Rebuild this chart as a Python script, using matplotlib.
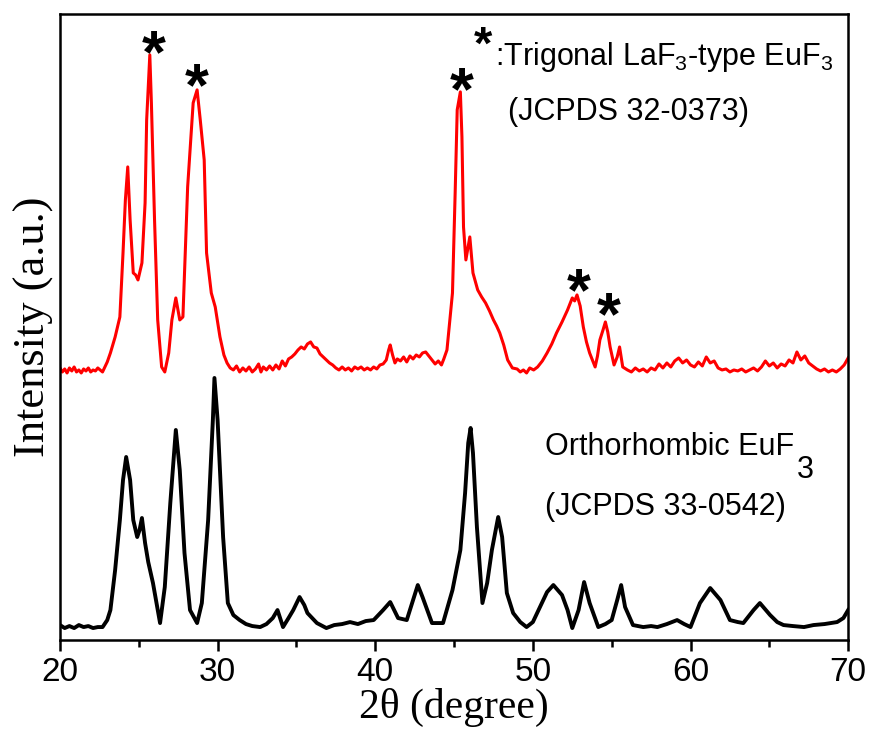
import numpy as np
import matplotlib
matplotlib.use('Agg')
import matplotlib.pyplot as plt
from matplotlib.ticker import MultipleLocator

# --- dati (2theta in gradi, intensita in u.a.) ---
tt_trig = [20.0, 20.15, 20.3, 20.45, 20.6, 20.75, 20.9, 21.05, 21.2, 21.35,
           21.5, 21.65, 21.8, 21.95, 22.1, 22.25, 22.4, 22.55, 22.7, 22.85,
           23.0, 23.2, 23.5, 23.8, 24.0, 24.15, 24.3, 24.45, 24.65, 24.8,
           24.95, 25.1, 25.2, 25.4, 25.5, 25.7, 25.8, 26.0, 26.2, 26.45,
           26.65, 26.9, 27.1, 27.35, 27.6, 27.8, 28.1, 28.45, 28.7, 28.9,
           29.15, 29.3, 29.6, 29.85, 30.15, 30.4, 30.6, 30.8, 31.0, 31.2,
           31.4, 31.6, 31.8, 32.0, 32.2, 32.4, 32.6, 32.75, 32.9, 33.1,
           33.3, 33.5, 33.7, 33.9, 34.1, 34.3, 34.5, 34.7, 34.9, 35.1,
           35.3, 35.5, 35.7, 35.9, 36.1, 36.3, 36.5, 36.7, 36.9, 37.1,
           37.3, 37.5, 37.7, 37.9, 38.1, 38.3, 38.5, 38.7, 38.9, 39.1,
           39.3, 39.5, 39.7, 39.9, 40.1, 40.3, 40.5, 40.7, 40.85, 40.95,
           41.1, 41.25, 41.4, 41.6, 41.8, 42.0, 42.2, 42.4, 42.6, 42.8,
           43.0, 43.2, 43.4, 43.6, 43.8, 44.0, 44.2, 44.35, 44.55, 44.9,
           45.07, 45.2, 45.4, 45.5, 45.6, 45.75, 46.0, 46.2, 46.5, 46.75,
           47.0, 47.25, 47.5, 47.7, 47.9, 48.15, 48.4, 48.7, 49.0, 49.2,
           49.4, 49.6, 49.8, 50.05, 50.3, 50.6, 50.9, 51.2, 51.5, 51.85,
           52.2, 52.5, 52.65, 52.8, 53.0, 53.2, 53.4, 53.6, 53.95, 54.1,
           54.25, 54.45, 54.6, 54.75, 54.9, 55.15, 55.35, 55.5, 55.7, 56.0,
           56.25, 56.5, 56.75, 57.0, 57.25, 57.5, 57.75, 58.0, 58.25, 58.5,
           58.75, 59.0, 59.25, 59.5, 59.75, 60.0, 60.25, 60.5, 60.75, 61.0,
           61.25, 61.5, 61.75, 62.0, 62.25, 62.5, 62.75, 63.0, 63.25, 63.5,
           63.75, 64.0, 64.25, 64.5, 64.75, 65.0, 65.25, 65.5, 65.75, 66.0,
           66.25, 66.5, 66.75, 67.0, 67.25, 67.5, 67.75, 68.0, 68.25, 68.5,
           68.75, 69.0, 69.25, 69.5, 69.75, 70.0]
int_trig = [272, 268, 271, 267, 272, 269, 273, 268, 270, 267,
            271, 269, 272, 268, 270, 269, 272, 270, 268, 273,
            278, 287, 303, 323, 387, 440, 473, 420, 367, 365,
            360, 370, 377, 437, 520, 585, 537, 420, 320, 273,
            268, 287, 320, 342, 320, 323, 453, 537, 550, 520,
            480, 387, 347, 333, 303, 285, 277, 272, 270, 274,
            268, 272, 269, 273, 268, 271, 276, 268, 273, 270,
            274, 270, 275, 271, 279, 274, 281, 283, 286, 290,
            293, 291, 296, 298, 293, 292, 286, 283, 280, 277,
            275, 272, 270, 273, 270, 272, 269, 273, 271, 273,
            270, 272, 270, 273, 271, 275, 276, 280, 290, 295,
            285, 277, 281, 279, 283, 278, 284, 281, 285, 283,
            287, 288, 284, 280, 276, 279, 275, 281, 290, 347,
            447, 530, 548, 503, 413, 380, 403, 367, 350, 343,
            337, 329, 320, 314, 307, 295, 280, 272, 271, 268,
            270, 267, 272, 270, 273, 279, 287, 296, 307, 318,
            330, 342, 339, 345, 334, 313, 298, 287, 273, 284,
            300, 310, 318, 308, 293, 275, 283, 293, 273, 270,
            268, 272, 269, 271, 268, 272, 270, 276, 272, 277,
            273, 279, 282, 277, 280, 275, 273, 278, 274, 283,
            277, 279, 272, 270, 271, 268, 270, 269, 271, 268,
            270, 272, 269, 273, 279, 274, 277, 272, 276, 274,
            280, 277, 288, 280, 284, 277, 274, 271, 269, 271,
            268, 270, 268, 271, 275, 282]

tt_orto = [20.0, 20.3, 20.6, 20.9, 21.2, 21.5, 21.8, 22.1, 22.4, 22.7,
           23.0, 23.2, 23.5, 23.8, 24.0, 24.2, 24.45, 24.65, 24.9, 25.05,
           25.2, 25.4, 25.6, 25.9, 26.35, 26.65, 27.0, 27.35, 27.6, 27.9,
           28.25, 28.7, 29.0, 29.4, 29.7, 29.8, 30.0, 30.35, 30.65, 31.0,
           31.4, 31.8, 32.2, 32.7, 33.1, 33.5, 33.8, 34.15, 34.5, 34.8,
           35.2, 35.5, 35.7, 36.0, 36.3, 36.9, 37.4, 37.9, 38.4, 38.9,
           39.4, 39.9, 40.5, 40.95, 41.45, 42.0, 42.4, 42.7, 43.0, 43.6,
           44.3, 44.9, 45.4, 45.7, 45.9, 46.05, 46.2, 46.45, 46.8, 47.1,
           47.4, 47.8, 48.05, 48.35, 48.75, 49.2, 49.6, 50.0, 50.45, 50.9,
           51.3, 51.85, 52.2, 52.5, 52.9, 53.25, 53.6, 54.15, 54.6, 55.0,
           55.35, 55.6, 55.85, 56.35, 57.0, 57.5, 57.9, 58.5, 59.15, 59.6,
           60.0, 60.6, 61.25, 61.9, 62.5, 63.0, 63.35, 64.0, 64.4, 65.05,
           65.5, 65.9, 66.5, 67.2, 67.8, 68.5, 69.3, 69.7, 70.0]
int_orto = [15, 12, 14, 12, 15, 13, 14, 12, 13, 13,
            20, 30, 70, 120, 160, 183, 160, 120, 103, 110,
            122, 97, 78, 57, 17, 53, 137, 210, 170, 87,
            30, 17, 37, 120, 220, 262, 220, 103, 37, 25,
            20, 16, 14, 13, 16, 22, 30, 13, 22, 30,
            43, 35, 27, 22, 17, 12, 15, 16, 18, 16,
            19, 20, 30, 38, 22, 20, 40, 55, 43, 17,
            17, 50, 90, 147, 197, 212, 187, 113, 37, 57,
            90, 123, 103, 47, 27, 18, 13, 18, 33, 48,
            55, 45, 30, 12, 30, 58, 37, 13, 16, 20,
            40, 55, 33, 15, 13, 14, 13, 16, 20, 16,
            13, 37, 52, 40, 20, 18, 17, 30, 37, 25,
            18, 15, 14, 13, 15, 16, 18, 22, 30]

# asterischi sui picchi trigonali (centro del simbolo)
star_x = [25.95, 28.69, 45.51, 52.93, 54.83]
star_y = [595, 562, 558, 357, 333]

sans = 'Liberation Sans'
serif = 'Liberation Serif'
plt.rcParams['mathtext.fontset'] = 'custom'
plt.rcParams['mathtext.rm'] = sans
plt.rcParams['mathtext.it'] = sans

fig = plt.figure(figsize=(8.69, 7.29), dpi=100)
ax = fig.add_axes([0.069, 0.122, 0.907, 0.859])

ax.plot(tt_trig, int_trig, color='#ff0000', linewidth=2.2)
ax.plot(tt_orto, int_orto, color='black', linewidth=2.8)

fs_star = 44
for sx, sy in zip(star_x, star_y):
    ax.annotate('*', xy=(sx, sy), xytext=(0, -0.58 * fs_star + 6), textcoords='offset points',
                ha='center', va='baseline', fontsize=fs_star, fontweight='bold', family=sans)

# legende testuali
ax.text(0.537, 0.948, '*', transform=ax.transAxes, ha='center', va='center',
        fontsize=34, fontweight='bold', family=sans)
ax.text(0.552, 0.918, r':Trigonal LaF$_3$-type EuF$_3$', transform=ax.transAxes,
        fontsize=22, family=sans, va='baseline')
ax.text(0.569, 0.831, '(JCPDS 32-0373)', transform=ax.transAxes,
        fontsize=22, family=sans, va='baseline')
ax.text(0.616, 0.2955, 'Orthorhombic EuF', transform=ax.transAxes,
        fontsize=22, family=sans, va='baseline')
ax.text(0.935, 0.259, '3', transform=ax.transAxes,
        fontsize=22, family=sans, va='baseline')
ax.text(0.616, 0.200, '(JCPDS 33-0542)', transform=ax.transAxes,
        fontsize=22, family=sans, va='baseline')

ax.set_xlim(20, 70)
ax.set_ylim(0, 626)
ax.xaxis.set_major_locator(MultipleLocator(10))
ax.xaxis.set_minor_locator(MultipleLocator(5))
ax.tick_params(axis='x', which='major', direction='out', length=8, width=1.8, pad=4,
               labelsize=24)
ax.tick_params(axis='x', which='minor', direction='out', length=5, width=1.8)
for lab in ax.get_xticklabels():
    lab.set_family(sans)
ax.set_yticks([])
for sp in ax.spines.values():
    sp.set_linewidth(1.8)

ax.set_xlabel('2θ (degree)', family=serif, fontsize=30, labelpad=0)
ax.set_ylabel('Intensity (a.u.)', family=serif, fontsize=32, labelpad=4)

plt.savefig('out.png', dpi=100)
